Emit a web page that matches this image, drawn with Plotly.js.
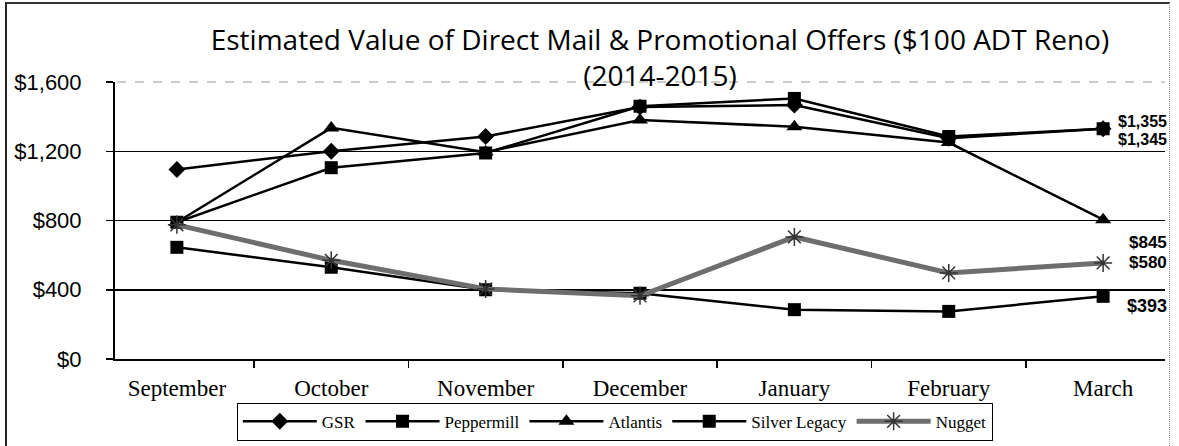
<!DOCTYPE html>
<html>
<head>
<meta charset="utf-8">
<script src="https://cdn.plot.ly/plotly-3.0.1.min.js"></script>
<style>
  html, body { margin: 0; padding: 0; background: #fff; }
  #wrap { position: relative; width: 1179px; height: 446px; }
  #chart { width: 1179px; height: 446px; }
  #frame { position: absolute; left: 5px; top: 2px; width: 1165px; height: 446px;
           border-left: 2px solid #222; border-top: 2px solid #333; border-right: 1px dotted #999;
           pointer-events: none; box-sizing: border-box; }
</style>
</head>
<body>
<div id="wrap">
  <div id="chart"></div>
  <div id="frame"></div>
</div>
<script>
// ---- data ----
const months = ["September", "October", "November", "December", "January", "February", "March"];
const gsr = [1095, 1200, 1285, 1455, 1467, 1275, 1330];
const peppermill = [790, 1105, 1190, 1460, 1505, 1285, 1330];
const atlantis = [790, 1335, 1195, 1380, 1342, 1250, 805];
const silverLegacy = [645, 530, 400, 380, 285, 275, 362];
const nugget = [775, 570, 405, 365, 705, 497, 555];
const yTickVals = [0, 400, 800, 1200, 1600];
const yTickText = ["$0", "$400", "$800", "$1,200", "$1,600"];
const endLabels = ["$1,355", "$1,345", "$845", "$580", "$393"];
const titleText = "Estimated Value of Direct Mail & Promotional Offers ($100 ADT Reno)<br>(2014-2015)";

const serif = "Liberation Serif, Times New Roman, serif";
const sans = "Liberation Sans, Arial, sans-serif";

function series(name, y, symbol, size, extra) {
  return Object.assign({
    type: "scatter", mode: "lines+markers", name: name, x: months, y: y,
    line: { color: "#000", width: 2.5 },
    marker: { symbol: symbol, size: size, color: "#000" },
    cliponaxis: false
  }, extra || {});
}

const traces = [
  series("GSR", gsr, "diamond", 13),
  series("Peppermill", peppermill, "square", 13),
  series("Atlantis", atlantis, "triangle-up", 14),
  series("Silver Legacy", silverLegacy, "square", 13),
  series("Nugget", nugget, "asterisk-open", 15, {
    line: { color: "#6e6e6e", width: 5 },
    marker: { symbol: "asterisk-open", size: 15, color: "#333", line: { color: "#333", width: 1.5 } }
  })
];

const labelY = [0.858, 0.792, 0.42, 0.348, 0.19];
const labelSize = [16, 16, 17, 17, 18];
const annotations = endLabels.map((t, i) => ({
  text: "<b>" + t + "</b>", xref: "paper", yref: "paper", x: 1.004, y: labelY[i],
  xanchor: "right", yanchor: "middle", showarrow: false,
  font: { family: sans, size: labelSize[i], color: "#000" }
}));

const layout = {
  width: 1179, height: 446,
  margin: { l: 115, r: 14, t: 82, b: 87, autoexpand: false },
  paper_bgcolor: "#fff", plot_bgcolor: "#fff",
  title: {
    text: titleText,
    font: { family: "Open Sans, sans-serif", size: 28, color: "#000" },
    x: 0.519, xref: "paper", xanchor: "center",
    y: 1 - 50 / 446, yref: "container", yanchor: "middle"
  },
  xaxis: {
    type: "category", showline: true, linecolor: "#000", linewidth: 2,
    ticks: "outside", tickson: "boundaries", ticklen: 7, tickcolor: "#000", tickwidth: 1.5,
    showgrid: false, zeroline: false,
    tickfont: { family: serif, size: 23, color: "#000" },
    ticklabelstandoff: 7
  },
  yaxis: {
    range: [0, 1600], tickvals: yTickVals, ticktext: yTickText,
    showline: true, linecolor: "#000", linewidth: 2,
    ticks: "outside", ticklen: 7, tickcolor: "#000", tickwidth: 1.5,
    showgrid: true, gridcolor: "#000", gridwidth: 1.5, zeroline: false,
    tickfont: { family: sans, size: 22, color: "#000" },
    ticklabelstandoff: 20
  },
  shapes: [
    { type: "line", xref: "paper", yref: "paper", x0: 0.002, x1: 1, y0: 1, y1: 1,
      line: { color: "#fff", width: 3 }, layer: "below" },
    { type: "line", xref: "paper", yref: "paper", x0: 0.002, x1: 1, y0: 1, y1: 1,
      line: { color: "#999", width: 1, dash: "dash" }, layer: "below" }
  ],
  legend: {
    orientation: "h", x: 0.476, xanchor: "center", y: -0.158, yanchor: "top",
    bordercolor: "#000", borderwidth: 1, bgcolor: "#fff",
    font: { family: serif, size: 17, color: "#000" },
    itemwidth: 74
  },
  annotations: annotations,
  showlegend: true
};

Plotly.newPlot("chart", traces, layout, { displayModeBar: false, staticPlot: true });
</script>
</body>
</html>
